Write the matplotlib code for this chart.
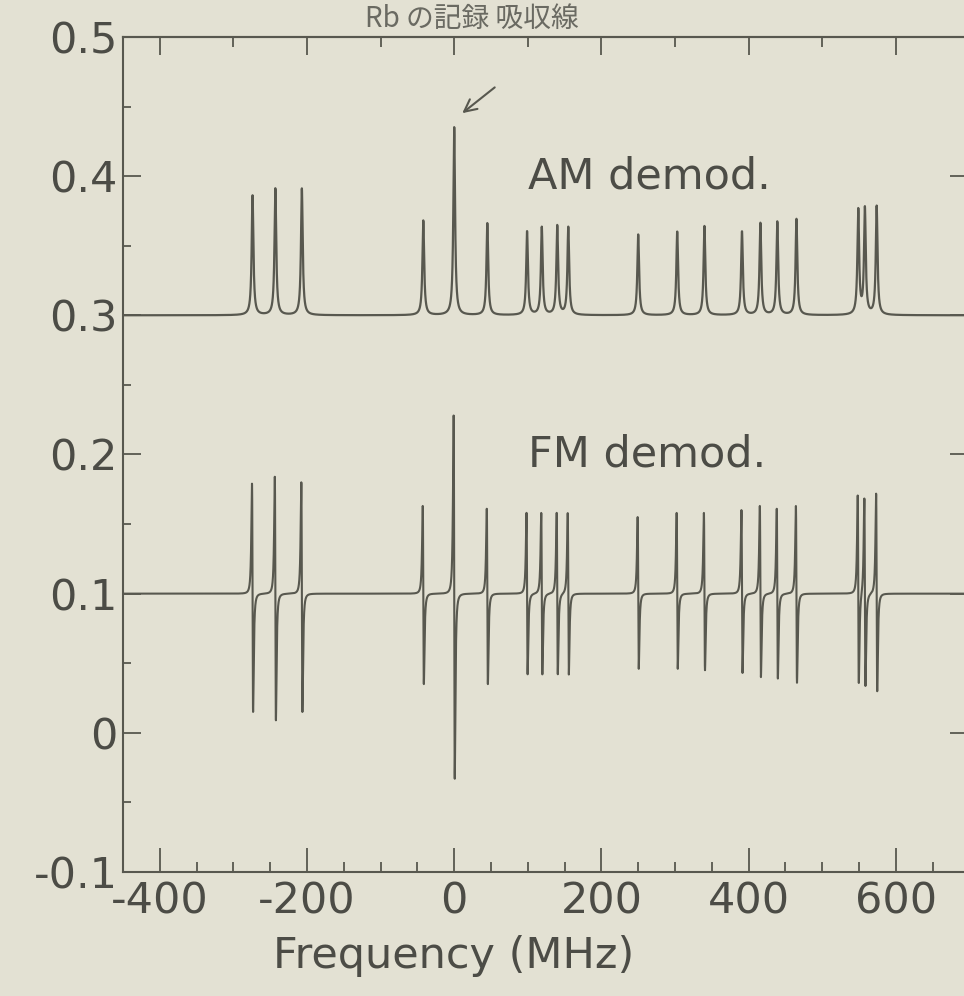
import numpy as np
import matplotlib
matplotlib.use('Agg')
import matplotlib.pyplot as plt
from matplotlib.ticker import MultipleLocator

# line positions (MHz)
centers = [-274, -243, -207, -42, 0, 45, 99, 119, 140, 155,
           250, 303, 340, 391, 416, 439, 465, 549, 558, 574]
# AM demod. peak tops
am_top = [0.386, 0.391, 0.391, 0.368, 0.435, 0.366, 0.360, 0.363, 0.364, 0.363,
          0.358, 0.360, 0.364, 0.360, 0.366, 0.367, 0.369, 0.375, 0.376, 0.378]
# FM demod. upper / lower extremes
fm_top = [0.179, 0.184, 0.180, 0.163, 0.228, 0.161, 0.158, 0.158, 0.158, 0.158,
          0.155, 0.158, 0.158, 0.160, 0.163, 0.161, 0.163, 0.170, 0.169, 0.172]
fm_bottom = [0.015, 0.009, 0.015, 0.035, -0.033, 0.035, 0.042, 0.042, 0.042, 0.042,
             0.046, 0.046, 0.045, 0.043, 0.040, 0.039, 0.036, 0.035, 0.034, 0.030]
am_base = 0.3
fm_base = 0.1

x_ticks = [-400, -200, 0, 200, 400, 600]
x_labels = ['-400', '-200', '0', '200', '400', '600']
y_ticks = [-0.1, 0, 0.1, 0.2, 0.3, 0.4, 0.5]
y_labels = ['-0.1', '0', '0.1', '0.2', '0.3', '0.4', '0.5']

paper = '#e3e1d3'
ink = '#58584f'
text_c = '#4c4c46'

# lorentzian line shapes for each transition
f = np.arange(-450, 700, 0.05)
g_am = 1.4
g_fm = 1.3
am = np.full_like(f, am_base)
fm = np.full_like(f, fm_base)
for c, a, up, lo in zip(centers, am_top, fm_top, fm_bottom):
    u = (f - c) / g_am
    am += (a - am_base) / (1 + u**2)
    v = (f - c) / g_fm
    d = -v / (1 + v**2)**2 / 0.3248
    fm += np.where(d > 0, d * (up - fm_base), d * (fm_base - lo))

fig = plt.figure(figsize=(9.64, 9.96), dpi=100, facecolor=paper)
ax = fig.add_axes([0.1276, 0.1245, 0.878, 0.8384], facecolor=paper)

ax.plot(f, am, color=ink, lw=1.6)
ax.plot(f, fm, color=ink, lw=1.5)

ax.set_xlim(-450, 700)
ax.set_ylim(-0.1, 0.5)

ax.set_xticks(x_ticks)
ax.set_xticklabels(x_labels)
ax.xaxis.set_minor_locator(MultipleLocator(50))
ax.set_yticks(y_ticks)
ax.set_yticklabels(y_labels)
ax.yaxis.set_minor_locator(MultipleLocator(0.05))
ax.tick_params(which='both', direction='in', colors=ink, labelcolor=text_c,
               labelsize=31, width=1.3)
ax.tick_params(axis='x', which='major', length=17, pad=6)
ax.tick_params(axis='x', which='minor', length=7)
ax.tick_params(axis='y', which='major', length=13, pad=4)
ax.tick_params(axis='y', which='minor', length=6)

top = ax.secondary_xaxis('top')
top.set_xticks(x_ticks)
top.set_xticklabels([])
top.xaxis.set_minor_locator(MultipleLocator(100))
top.tick_params(which='both', direction='in', colors=ink, width=1.3)
top.tick_params(which='major', length=13)
top.tick_params(which='minor', length=7)

right = ax.secondary_yaxis('right')
right.set_yticks(y_ticks)
right.set_yticklabels([])
right.tick_params(direction='in', length=14, colors=ink, width=1.3)

for s in ax.spines.values():
    s.set_color(ink)
    s.set_linewidth(1.5)
top.spines['top'].set_color(ink)
top.spines['top'].set_linewidth(1.5)
right.spines['right'].set_linewidth(1.5)

ax.set_xlabel('Frequency (MHz)', fontsize=31, color=text_c)
ax.xaxis.set_label_coords(0.391, -0.10)
ax.xaxis.label.set_va('center')

ax.text(100, 0.4, 'AM demod.', fontsize=31, color=text_c, va='center')
ax.text(100, 0.2, 'FM demod.', fontsize=31, color=text_c, va='center')

ax.annotate('', xy=(8, 0.444), xytext=(58, 0.465),
            arrowprops=dict(arrowstyle='->', color=ink, lw=1.5, mutation_scale=22))

fig.text(0.49, 0.996, 'Rb の記録 吸収線', ha='center', va='top', fontsize=20,
         color='#6a6a62', family=['Noto Sans CJK JP', 'DejaVu Sans'])

fig.savefig('out.png', dpi=100, facecolor=paper)
